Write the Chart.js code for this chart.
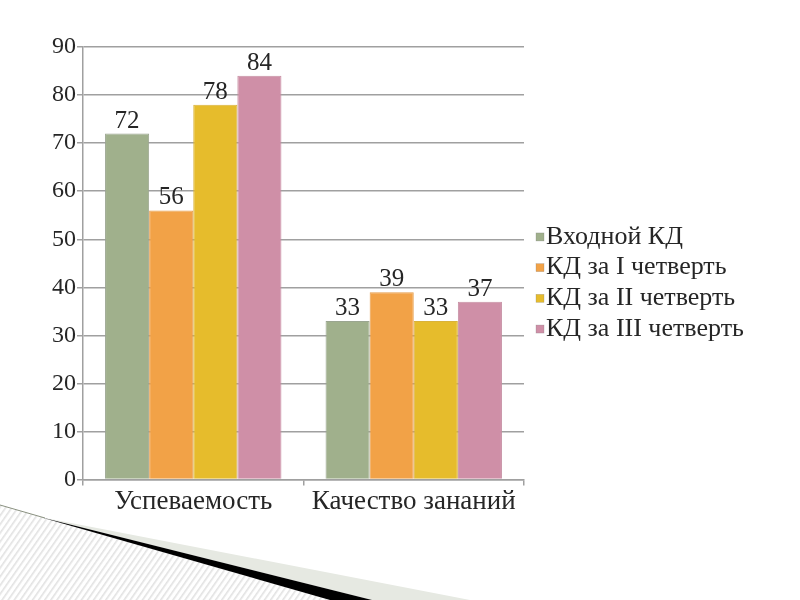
<!DOCTYPE html>
<html>
<head>
<meta charset="utf-8">
<script src="https://cdn.jsdelivr.net/npm/chart.js@4.4.0/dist/chart.umd.min.js"></script>
<style>
  html, body { margin: 0; padding: 0; background: #fff; }
  #wrap { position: relative; width: 800px; height: 600px; }
  #deco { position: absolute; left: 0; top: 0; }
  #c { position: absolute; left: 0; top: 0; }
</style>
</head>
<body>
<div id="wrap">
<svg id="deco" width="800" height="600" xmlns="http://www.w3.org/2000/svg">
  <defs>
    <pattern id="hatch" width="5" height="5" patternUnits="userSpaceOnUse" patternTransform="rotate(35)">
      <rect width="5" height="5" fill="#ffffff"/>
      <rect width="1.6" height="5" fill="#e2e2e2"/>
    </pattern>
  </defs>
  <polygon points="0,505 330,600 0,600" fill="url(#hatch)"/>
  <polygon points="40,517 470,600 372,600" fill="#e6e9e2"/>
  <polygon points="40,517 372,600 330,600" fill="#000"/>
  <line x1="0" y1="505" x2="45" y2="518" stroke="#8a9180" stroke-width="1"/>
</svg>
<canvas id="c" width="800" height="600"></canvas>
</div>
<script>
const categories = ["Успеваемость", "Качество зананий"];
const seriesNames = ["Входной КД", "КД за I четверть", "КД за II четверть", "КД за III четверть"];
const vhodnoy = [72, 33];
const chetvert1 = [56, 39];
const chetvert2 = [78, 33];
const chetvert3 = [84, 37];
const yTicks = [0, 10, 20, 30, 40, 50, 60, 70, 80, 90];

const colors = ["#a0b08c", "#f2a247", "#e6bc2c", "#cf8fa7"];
const borders = ["#9aa590", "#e69d4a", "#d9b23a", "#c68ea2"];
const FONT = "'Liberation Serif', 'Times New Roman', serif";
const TEXT = "#262626";
const GRID = "#a0a0a0";

const valueLabels = {
  id: 'valueLabels',
  afterDatasetsDraw(chart) {
    const ctx = chart.ctx;
    ctx.save();
    ctx.font = "25px " + FONT;
    ctx.fillStyle = TEXT;
    ctx.textAlign = "center";
    ctx.textBaseline = "bottom";
    chart.data.datasets.forEach((ds, i) => {
      const meta = chart.getDatasetMeta(i);
      meta.data.forEach((el, j) => {
        ctx.fillText(String(ds.data[j]), el.x, el.y);
      });
    });
    ctx.restore();
  }
};

const sideLegend = {
  id: 'sideLegend',
  afterDraw(chart) {
    const ctx = chart.ctx;
    const ca = chart.chartArea;
    const x0 = ca.right + 12;
    const yMid = 282;
    const step = 30.7;
    const n = chart.data.datasets.length;
    ctx.save();
    ctx.font = "26px " + FONT;
    ctx.textAlign = "left";
    ctx.textBaseline = "middle";
    chart.data.datasets.forEach((ds, i) => {
      const y = yMid + (i - (n - 1) / 2) * step;
      ctx.fillStyle = ds.backgroundColor;
      ctx.fillRect(x0, y - 3, 8, 8);
      ctx.strokeStyle = "rgba(120,120,120,0.5)";
      ctx.lineWidth = 0.5;
      ctx.strokeRect(x0, y - 3, 8, 8);
      ctx.fillStyle = TEXT;
      ctx.fillText(ds.label, x0 + 10, y + 1);
    });
    ctx.restore();
  }
};

const seriesData = [vhodnoy, chetvert1, chetvert2, chetvert3];

new Chart(document.getElementById('c'), {
  type: 'bar',
  data: {
    labels: categories,
    datasets: seriesNames.map((n, i) => ({
      label: n,
      data: seriesData[i],
      backgroundColor: colors[i],
      borderColor: borders[i],
      borderWidth: 1,
      categoryPercentage: 0.8,
      barPercentage: 1.0
    }))
  },
  options: {
    responsive: false,
    animation: false,
    devicePixelRatio: 1,
    layout: { padding: { left: 51, top: 47, right: 276, bottom: 82 } },
    plugins: {
      tooltip: { enabled: false },
      legend: { display: false }
    },
    scales: {
      x: {
        grid: { display: true, drawOnChartArea: false, drawTicks: true, tickLength: 6, color: GRID, lineWidth: 1.5 },
        border: { color: GRID, width: 1.5 },
        ticks: { font: { family: FONT, size: 27 }, color: TEXT, padding: 0 }
      },
      y: {
        min: 0, max: 90,
        afterBuildTicks(axis) { axis.ticks = yTicks.map(v => ({ value: v })); },
        grid: { color: GRID, lineWidth: 1.5, tickLength: 6 },
        border: { color: GRID, width: 1.5 },
        ticks: { font: { family: FONT, size: 24 }, color: TEXT, padding: 1 }
      }
    }
  },
  plugins: [valueLabels, sideLegend]
});
</script>
</body>
</html>
